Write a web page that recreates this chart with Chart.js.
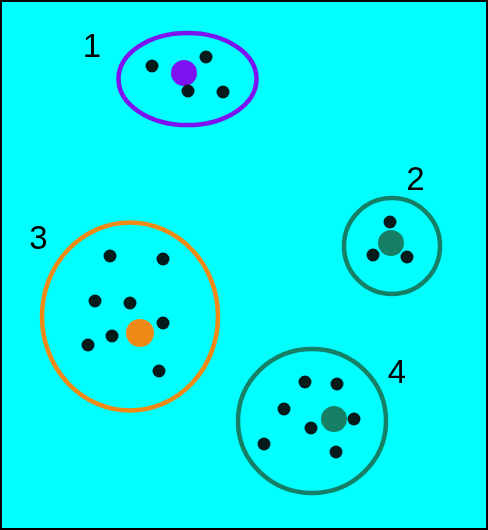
<!DOCTYPE html>
<html>
<head>
<meta charset="utf-8">
<script src="https://cdn.jsdelivr.net/npm/chart.js@4/dist/chart.umd.min.js"></script>
<style>
html,body{margin:0;padding:0;background:#00ffff;}
#wrap{width:488px;height:530px;position:relative;}
</style>
</head>
<body>
<div id="wrap"><canvas id="c"></canvas></div>
<script>
// Cluster labels
const clusterLabels = ['1', '2', '3', '4'];
// Member points per cluster (x, y)
const pts1x = [152, 206, 188, 223];
const pts1y = [66, 57, 91, 92];
const pts2x = [390, 373, 407];
const pts2y = [222, 255, 257];
const pts3x = [110, 163, 95, 130, 163, 112, 88, 159];
const pts3y = [256, 259, 301, 303, 323, 336, 345, 371];
const pts4x = [305, 337, 284, 354, 311, 264, 336];
const pts4y = [382, 384, 409, 419, 428, 444, 452];
// Centroids
const centX = [184, 391, 140, 334];
const centY = [73, 243, 333, 419];
// Enclosing ellipses: center and radii
const ellCX = [187.5, 392, 130, 312];
const ellCY = [79, 246, 316.5, 421];
const ellRX = [69, 48, 88, 74];
const ellRY = [46, 48, 94, 72];
// Label anchor positions
const labX = [92, 415.5, 38.5, 397];
const labY = [57, 190, 249, 383];

const clusterColors = ['#7d12f0', '#168066', '#f08a14', '#168066'];
const dotColor = '#051a1a';

const memberX = [pts1x, pts2x, pts3x, pts4x];
const memberY = [pts1y, pts2y, pts3y, pts4y];

const datasets = [];
for (let i = 0; i < 4; i++) {
  datasets.push({
    label: 'Cluster ' + clusterLabels[i],
    data: memberX[i].map((x, j) => ({x: x, y: memberY[i][j]})),
    backgroundColor: dotColor,
    borderColor: dotColor,
    borderWidth: 0,
    pointRadius: 6.5,
    pointHoverRadius: 6.5
  });
  datasets.push({
    label: 'Centroid ' + clusterLabels[i],
    data: [{x: centX[i], y: centY[i]}],
    backgroundColor: clusterColors[i],
    borderColor: clusterColors[i],
    borderWidth: 0,
    pointRadius: i === 2 ? 14 : 13,
    pointHoverRadius: 13
  });
}

const decor = {
  id: 'decor',
  beforeDraw(chart) {
    const ctx = chart.ctx;
    ctx.save();
    ctx.fillStyle = '#00ffff';
    ctx.fillRect(0, 0, chart.width, chart.height);
    ctx.restore();
  },
  beforeDatasetsDraw(chart) {
    const ctx = chart.ctx, xs = chart.scales.x, ys = chart.scales.y;
    ctx.save();
    for (let i = 0; i < 4; i++) {
      const cx = xs.getPixelForValue(ellCX[i]);
      const cy = ys.getPixelForValue(ellCY[i]);
      const rx = Math.abs(xs.getPixelForValue(ellCX[i] + ellRX[i]) - cx);
      const ry = Math.abs(ys.getPixelForValue(ellCY[i] + ellRY[i]) - cy);
      ctx.beginPath();
      ctx.ellipse(cx, cy, rx, ry, 0, 0, Math.PI * 2);
      ctx.lineWidth = 4.5;
      ctx.strokeStyle = clusterColors[i];
      ctx.stroke();
    }
    ctx.fillStyle = '#000000';
    ctx.font = '33px "Liberation Sans", Arial, sans-serif';
    ctx.textAlign = 'center';
    ctx.textBaseline = 'alphabetic';
    for (let i = 0; i < 4; i++) {
      ctx.fillText(clusterLabels[i], xs.getPixelForValue(labX[i]), ys.getPixelForValue(labY[i]));
    }
    ctx.restore();
  },
  afterDraw(chart) {
    const ctx = chart.ctx;
    ctx.save();
    ctx.strokeStyle = '#000000';
    ctx.lineWidth = 2;
    ctx.strokeRect(1, 1, 486, 528);
    ctx.restore();
  }
};

new Chart(document.getElementById('c'), {
  type: 'scatter',
  data: {datasets: datasets},
  options: {
    responsive: true,
    maintainAspectRatio: false,
    animation: false,
    layout: {padding: 0, autoPadding: false},
    plugins: {legend: {display: false}, tooltip: {enabled: false}},
    scales: {
      x: {type: 'linear', min: 0, max: 488, display: false},
      y: {type: 'linear', min: 0, max: 530, reverse: true, display: false}
    }
  },
  plugins: [decor]
});
</script>
</body>
</html>
